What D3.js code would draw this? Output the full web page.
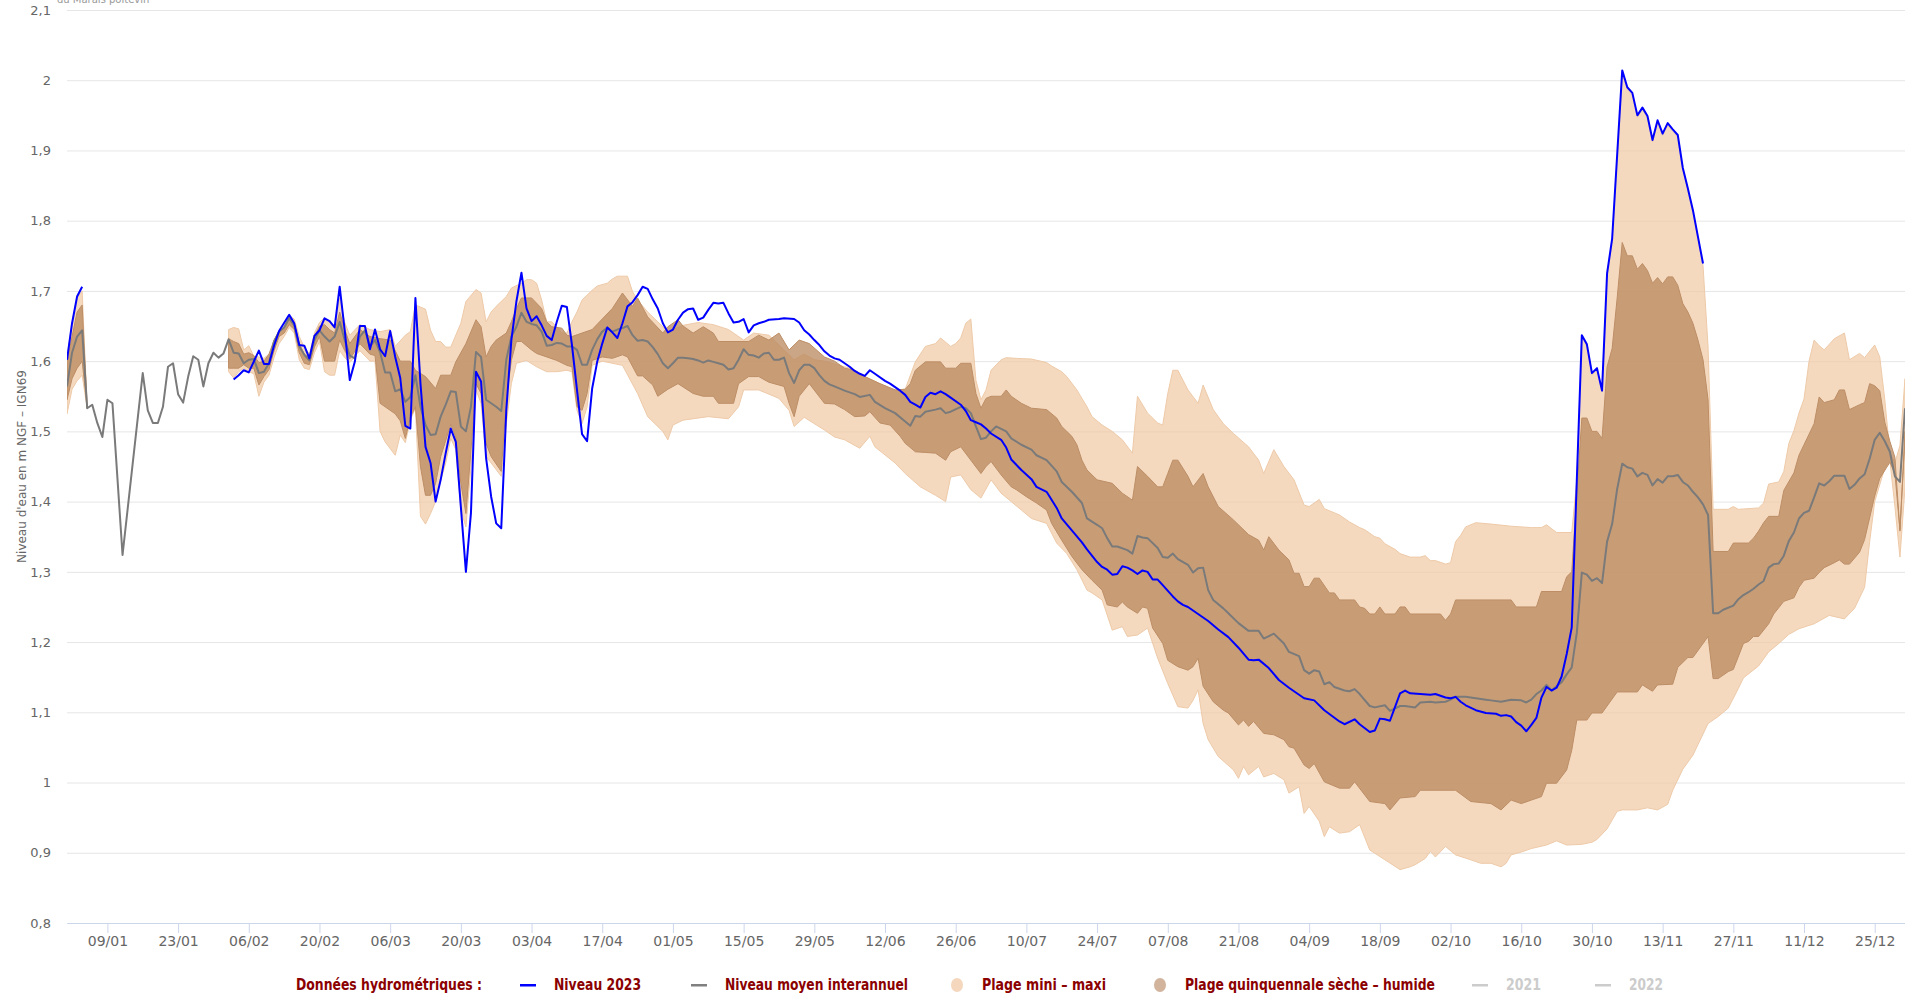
<!DOCTYPE html>
<html lang="fr">
<head>
<meta charset="utf-8">
<title>Niveau d'eau 2023</title>
<script src="https://cdn.jsdelivr.net/npm/d3@7"></script>
<style>
  body { margin: 0; background: #fff; }
  svg { display: block; }
  .legend text { font-family: "Liberation Sans Narrow", "DejaVu Sans Condensed", "DejaVu Sans", sans-serif; font-stretch: condensed; font-weight: bold; font-size: 15px; }
</style>
</head>
<body>
<div id="chart"></div>
<script>
// Day of year (0 = 1st January 2023) and level in m NGF-IGN69
// null entries split the series where data is missing

const niveau2023 = [
  [0,1.602],[1,1.654],[2,1.692],[3,1.706], null,
  [33,1.574],[34,1.580],[35,1.587],[36,1.584],[38,1.615],[39,1.596],[40,1.596],[41,1.622],[42,1.643],[44,1.666],
  [45,1.654],[46,1.623],[47,1.622],[48,1.604],[49,1.636],[50,1.644],[51,1.661],[52,1.657],[53,1.648],[54,1.706],
  [55,1.644],[56,1.573],[57,1.599],[58,1.650],[59,1.650],[60,1.617],[61,1.645],[62,1.617],[63,1.607],[64,1.643],
  [65,1.606],[66,1.576],[67,1.508],[68,1.504],[69,1.690],[70,1.568],[71,1.478],[72,1.455],[73,1.400],[74,1.431],
  [75,1.469],[76,1.504],[77,1.485],[79,1.300],[80,1.384],[81,1.585],[82,1.571],[83,1.462],[84,1.407],[85,1.369],
  [86,1.362],[87,1.530],[88,1.630],[89,1.685],[90,1.726],[91,1.675],[92,1.657],[93,1.664],[94,1.651],[95,1.636],
  [96,1.630],[97,1.656],[98,1.679],[99,1.677],[100,1.623],[101,1.559],[102,1.496],[103,1.486],[104,1.561],[105,1.599],
  [106,1.625],[107,1.648],[108,1.641],[109,1.633],[110,1.654],[111,1.678],[112,1.684],[113,1.694],[114,1.706],[115,1.703],
  [116,1.688],[117,1.675],[118,1.654],[119,1.641],[120,1.645],[121,1.659],[122,1.669],[123,1.674],[124,1.675],[125,1.659],
  [126,1.662],[127,1.673],[128,1.683],[129,1.682],[130,1.683],[131,1.668],[132,1.655],[133,1.656],[134,1.660],[135,1.641],
  [136,1.651],[137,1.654],[138,1.656],[139,1.659],[141,1.660],[142,1.661],[144,1.660],[145,1.655],[146,1.644],[147,1.638],
  [148,1.630],[149,1.623],[150,1.614],[151,1.608],[152,1.604],[153,1.602],[154,1.597],[155,1.592],[156,1.586],[157,1.582],
  [158,1.579],[159,1.587],[160,1.582],[162,1.572],[163,1.568],[165,1.558],[166,1.552],[167,1.542],[168,1.538],[169,1.534],
  [170,1.549],[171,1.555],[172,1.553],[173,1.557],[174,1.553],[175,1.548],[177,1.538],[178,1.529],[179,1.516],[180,1.513],
  [181,1.510],[182,1.504],[183,1.497],[185,1.488],[186,1.477],[187,1.460],[189,1.445],[191,1.432],[192,1.421],[194,1.414],
  [196,1.391],[197,1.376],[199,1.359],[201,1.342],[202,1.332],[204,1.314],[205,1.307],[206,1.303],[207,1.296],[208,1.297],
  [209,1.308],[210,1.306],[211,1.302],[212,1.297],[213,1.302],[214,1.300],[215,1.289],[216,1.289],[217,1.281],[219,1.265],
  [220,1.258],[221,1.253],[222,1.250],[224,1.240],[226,1.230],[228,1.218],[230,1.207],[232,1.192],[234,1.175],[235,1.174],
  [236,1.175],[238,1.163],[240,1.146],[242,1.135],[245,1.120],[247,1.117],[249,1.103],[252,1.087],[253,1.083],[255,1.090],
  [256,1.083],[258,1.072],[259,1.074],[260,1.091],[261,1.090],[262,1.088],[264,1.127],[265,1.131],[266,1.127],[268,1.126],
  [270,1.125],[271,1.126],[273,1.121],[274,1.120],[275,1.122],[276,1.115],[277,1.110],[279,1.103],[281,1.099],[283,1.098],
  [284,1.095],[285,1.096],[286,1.094],[287,1.086],[288,1.081],[289,1.073],[290,1.082],[291,1.092],[292,1.121],[293,1.136],
  [294,1.131],[295,1.135],[296,1.151],[297,1.183],[298,1.221],[299,1.430],[300,1.637],[301,1.624],[302,1.583],[303,1.590],
  [304,1.558],[305,1.725],[306,1.774],[308,2.014],[309,1.990],[310,1.982],[311,1.950],[312,1.961],[313,1.949],[314,1.915],
  [315,1.943],[316,1.924],[317,1.939],[318,1.930],[319,1.922],[320,1.875],[321,1.846],[322,1.815],[323,1.777],[324,1.739]
];

const moyenneInterannuelle = [
  [0,1.564],[1,1.612],[2,1.635],[3,1.644],[4,1.533],[5,1.538],[6,1.512],[7,1.492],[8,1.545],[9,1.540],[11,1.324],
  [15,1.583],[16,1.530],[17,1.512],[18,1.512],[19,1.535],[20,1.592],[21,1.597],[22,1.553],[23,1.541],[24,1.578],
  [25,1.607],[26,1.602],[27,1.564],[28,1.597],[29,1.612],[30,1.605],[31,1.611],[32,1.631],[33,1.612],[34,1.611],
  [35,1.597],[36,1.602],[37,1.603],[38,1.583],[39,1.585],[40,1.597],[41,1.628],[42,1.642],[43,1.648],[44,1.661],
  [45,1.651],[46,1.621],[47,1.609],[48,1.601],[49,1.630],[50,1.644],[51,1.635],[52,1.628],[53,1.635],[54,1.656],
  [55,1.630],[56,1.608],[57,1.604],[58,1.635],[59,1.644],[60,1.621],[61,1.630],[62,1.613],[63,1.584],[64,1.584],
  [65,1.557],[66,1.560],[67,1.542],[68,1.549],[69,1.580],[70,1.535],[71,1.509],[72,1.495],[73,1.496],[74,1.521],
  [75,1.538],[76,1.557],[77,1.556],[78,1.507],[79,1.500],[80,1.535],[81,1.613],[82,1.606],[83,1.545],[84,1.540],
  [85,1.535],[86,1.529],[87,1.602],[88,1.635],[89,1.649],[90,1.669],[91,1.656],[92,1.653],[93,1.651],[94,1.642],
  [95,1.622],[96,1.623],[97,1.626],[98,1.625],[99,1.621],[100,1.621],[101,1.616],[102,1.595],[103,1.595],[104,1.616],
  [105,1.631],[106,1.642],[107,1.648],[108,1.642],[109,1.645],[110,1.647],[111,1.650],[112,1.637],[113,1.629],[114,1.630],
  [115,1.628],[116,1.620],[117,1.610],[118,1.597],[119,1.590],[120,1.597],[121,1.605],[122,1.605],[123,1.604],[124,1.603],
  [125,1.601],[126,1.598],[127,1.601],[128,1.599],[129,1.597],[130,1.595],[131,1.588],[132,1.590],[133,1.602],[134,1.617],
  [135,1.609],[136,1.608],[137,1.605],[138,1.611],[139,1.612],[140,1.602],[141,1.602],[142,1.605],[143,1.583],[144,1.569],
  [145,1.587],[146,1.595],[147,1.595],[148,1.590],[149,1.580],[150,1.572],[151,1.567],[152,1.564],[154,1.558],[156,1.553],
  [157,1.549],[159,1.552],[160,1.542],[162,1.533],[164,1.526],[166,1.514],[167,1.508],[168,1.522],[169,1.521],[170,1.528],
  [172,1.531],[173,1.533],[174,1.526],[175,1.528],[177,1.535],[178,1.533],[179,1.526],[180,1.507],[181,1.489],[182,1.491],
  [183,1.500],[184,1.507],[186,1.500],[187,1.490],[189,1.481],[191,1.474],[192,1.466],[194,1.459],[196,1.443],[197,1.428],
  [199,1.414],[201,1.398],[202,1.376],[204,1.367],[205,1.362],[206,1.348],[207,1.336],[208,1.336],[210,1.331],[211,1.326],
  [212,1.351],[213,1.349],[214,1.348],[216,1.334],[217,1.321],[218,1.320],[219,1.326],[220,1.318],[222,1.310],[223,1.299],
  [224,1.305],[225,1.306],[226,1.274],[227,1.260],[229,1.248],[230,1.241],[232,1.227],[234,1.216],[236,1.216],[237,1.205],
  [239,1.212],[241,1.198],[242,1.186],[244,1.180],[245,1.160],[246,1.155],[247,1.160],[248,1.158],[249,1.140],[250,1.143],
  [251,1.136],[253,1.131],[254,1.130],[255,1.133],[256,1.126],[258,1.109],[259,1.107],[261,1.110],[262,1.102],[264,1.109],
  [265,1.109],[267,1.107],[268,1.114],[270,1.115],[271,1.114],[273,1.115],[274,1.118],[275,1.122],[277,1.122],[279,1.120],
  [281,1.118],[282,1.117],[284,1.115],[286,1.118],[288,1.117],[289,1.114],[290,1.118],[291,1.126],[292,1.131],[293,1.139],
  [294,1.131],[295,1.137],[296,1.143],[297,1.154],[298,1.164],[299,1.213],[300,1.299],[301,1.296],[302,1.287],[303,1.291],
  [304,1.284],[305,1.343],[306,1.368],[307,1.418],[308,1.454],[309,1.449],[310,1.447],[311,1.436],[312,1.441],[313,1.438],
  [314,1.423],[315,1.432],[316,1.427],[317,1.436],[318,1.436],[319,1.438],[320,1.428],[321,1.423],[322,1.414],[323,1.406],
  [324,1.396],[325,1.381],[326,1.241],[327,1.241],[328,1.246],[330,1.252],[331,1.261],[332,1.267],[333,1.271],[334,1.276],
  [335,1.282],[336,1.287],[337,1.306],[338,1.311],[339,1.312],[340,1.323],[341,1.344],[342,1.356],[343,1.376],[344,1.384],
  [345,1.387],[346,1.406],[347,1.426],[348,1.423],[349,1.429],[350,1.437],[352,1.437],[353,1.418],[354,1.424],[355,1.433],
  [356,1.439],[357,1.461],[358,1.488],[359,1.498],[360,1.486],[361,1.471],[362,1.436],[363,1.428],[364,1.533]
];

// Plage mini - maxi
const plageMaxi = [
  [0,1.605],[1,1.655],[2,1.690],[3,1.700],[4,1.533], null,
  [32,1.645],[33,1.648],[34,1.646],[35,1.616],[36,1.622],[37,1.607],[38,1.606],[39,1.604],[40,1.610],[41,1.613],
  [42,1.640],[43,1.650],[44,1.665],[45,1.660],[46,1.635],[47,1.620],[48,1.610],[49,1.640],[50,1.655],[51,1.662],
  [52,1.655],[53,1.650],[54,1.690],[55,1.655],[56,1.637],[58,1.652],[60,1.645],[62,1.642],[64,1.645],[65,1.621],
  [67,1.637],[68,1.642],[69,1.680],[71,1.674],[72,1.644],[73,1.628],[74,1.628],[75,1.620],[76,1.620],[78,1.654],
  [79,1.685],[81,1.702],[82,1.697],[83,1.656],[84,1.670],[85,1.678],[87,1.692],[88,1.704],[90,1.711],[91,1.716],
  [92,1.716],[93,1.711],[94,1.687],[95,1.656],[96,1.656],[97,1.649],[98,1.640],[99,1.640],[100,1.656],[101,1.670],
  [102,1.687],[104,1.701],[105,1.707],[107,1.711],[108,1.717],[109,1.721],[111,1.721],[112,1.699],[113,1.687],[115,1.670],
  [117,1.656],[119,1.642],[122,1.651],[125,1.655],[128,1.652],[131,1.645],[132,1.640],[134,1.630],[136,1.640],[139,1.637],
  [142,1.616],[144,1.602],[146,1.610],[148,1.602],[150,1.600],[152,1.596],[155,1.590],[158,1.578],[161,1.568],[164,1.559],
  [166,1.560],[168,1.599],[170,1.621],[172,1.625],[173,1.633],[175,1.621],[176,1.625],[177,1.633],[178,1.654],[179,1.660],
  [180,1.573],[181,1.545],[182,1.559],[183,1.587],[185,1.602],[186,1.605],[188,1.604],[191,1.603],[194,1.598],[195,1.593],
  [197,1.585],[198,1.578],[200,1.559],[202,1.535],[203,1.521],[205,1.509],[207,1.500],[209,1.488],[211,1.469],[212,1.550],
  [214,1.526],[216,1.512],[217,1.509],[218,1.554],[219,1.587],[220,1.587],[222,1.559],[224,1.540],[225,1.566],[227,1.531],
  [229,1.511],[231,1.497],[234,1.478],[236,1.459],[237,1.440],[239,1.474],[241,1.450],[243,1.431],[245,1.395],[246,1.393],
  [248,1.403],[249,1.390],[252,1.381],[254,1.371],[256,1.363],[257,1.360],[259,1.350],[260,1.348],[261,1.340],[263,1.332],
  [264,1.326],[266,1.321],[268,1.321],[269,1.323],[270,1.316],[271,1.316],[273,1.311],[274,1.313],[275,1.343],[276,1.352],
  [277,1.364],[279,1.370],[282,1.368],[286,1.365],[290,1.363],[292,1.363],[293,1.367],[295,1.356],[298,1.356],[299,1.430],
  [300,1.635],[301,1.620],[302,1.580],[303,1.588],[304,1.556],[305,1.720],[306,1.770],[308,2.010],[309,1.987],[310,1.979],
  [311,1.947],[312,1.958],[313,1.946],[314,1.912],[315,1.940],[316,1.921],[317,1.936],[318,1.927],[319,1.919],[320,1.872],
  [321,1.843],[322,1.812],[323,1.774],[324,1.736],[325,1.620],[326,1.389],[329,1.389],[330,1.393],[331,1.389],[335,1.391],
  [336,1.398],[337,1.425],[339,1.428],[340,1.443],[341,1.483],[342,1.501],[343,1.526],[344,1.546],[345,1.600],[346,1.630],
  [347,1.622],[348,1.616],[350,1.632],[352,1.640],[353,1.602],[355,1.611],[356,1.605],[358,1.623],[359,1.606],[360,1.545],
  [361,1.470],[362,1.455],[363,1.480],[364,1.575]
];

const plageMini = [
  [0,1.525],[1,1.560],[2,1.572],[3,1.580],[4,1.533], null,
  [32,1.585],[33,1.576],[34,1.585],[35,1.590],[36,1.585],[37,1.582],[38,1.550],[39,1.570],[40,1.580],[41,1.605],
  [42,1.625],[43,1.635],[44,1.648],[45,1.640],[46,1.602],[47,1.590],[48,1.588],[49,1.612],[50,1.628],[51,1.585],
  [52,1.580],[53,1.580],[54,1.615],[55,1.605],[56,1.598],[58,1.615],[60,1.600],[61,1.600],[62,1.500],[63,1.485],
  [65,1.466],[66,1.495],[67,1.484],[68,1.516],[69,1.533],[70,1.379],[71,1.368],[72,1.383],[73,1.400],[74,1.430],
  [75,1.455],[76,1.490],[77,1.474],[78,1.388],[79,1.364],[80,1.450],[81,1.559],[82,1.540],[83,1.464],[84,1.455],
  [86,1.436],[87,1.511],[88,1.568],[89,1.597],[91,1.601],[93,1.592],[95,1.585],[97,1.585],[99,1.587],[100,1.585],
  [101,1.530],[102,1.511],[103,1.535],[104,1.594],[106,1.600],[110,1.594],[113,1.554],[115,1.521],[118,1.500],[119,1.488],
  [120,1.509],[122,1.516],[127,1.521],[131,1.518],[133,1.535],[134,1.559],[137,1.559],[141,1.547],[143,1.530],[144,1.507],
  [146,1.520],[150,1.502],[152,1.492],[154,1.488],[157,1.476],[159,1.493],[160,1.478],[164,1.455],[166,1.440],[169,1.421],
  [172,1.409],[174,1.400],[175,1.435],[177,1.438],[179,1.417],[181,1.405],[183,1.431],[185,1.412],[187,1.400],[189,1.388],
  [191,1.376],[194,1.369],[196,1.341],[198,1.326],[200,1.303],[202,1.274],[203,1.270],[205,1.260],[207,1.217],[209,1.222],
  [210,1.208],[212,1.210],[214,1.220],[216,1.177],[218,1.141],[220,1.108],[222,1.106],[223,1.117],[224,1.132],[225,1.084],
  [226,1.061],[228,1.037],[231,1.018],[232,1.006],[233,1.023],[234,1.011],[236,1.023],[237,1.008],[239,1.013],[241,1.004],
  [242,0.985],[244,0.994],[245,0.956],[246,0.966],[248,0.945],[249,0.923],[250,0.937],[252,0.928],[254,0.930],[256,0.940],
  [258,0.904],[261,0.890],[264,0.876],[266,0.880],[267,0.883],[269,0.892],[270,0.902],[271,0.894],[273,0.909],[275,0.897],
  [278,0.890],[280,0.885],[282,0.885],[284,0.880],[285,0.885],[286,0.897],[288,0.901],[290,0.906],[293,0.911],[295,0.917],
  [297,0.911],[300,0.912],[302,0.915],[303,0.919],[305,0.934],[307,0.959],[308,0.961],[311,0.961],[313,0.964],[315,0.961],
  [317,0.969],[318,0.989],[320,1.019],[322,1.039],[323,1.054],[325,1.084],[327,1.094],[329,1.106],[331,1.134],[332,1.149],
  [335,1.166],[337,1.186],[339,1.198],[341,1.211],[343,1.219],[346,1.226],[349,1.238],[352,1.233],[354,1.248],[356,1.278],
  [357,1.343],[358,1.400],[360,1.448],[361,1.459],[362,1.393],[363,1.321],[364,1.420]
];

// Plage quinquennale sèche - humide
const quinquennaleHumide = [
  [0,1.598],[1,1.635],[2,1.670],[3,1.680],[4,1.533], null,
  [32,1.632],[33,1.628],[34,1.625],[35,1.610],[36,1.612],[37,1.608],[38,1.598],[39,1.600],[40,1.610],[41,1.630],
  [42,1.643],[43,1.648],[44,1.663],[45,1.654],[46,1.625],[47,1.610],[48,1.605],[49,1.635],[50,1.650],[51,1.652],
  [52,1.645],[53,1.640],[54,1.670],[55,1.645],[56,1.625],[58,1.645],[60,1.635],[62,1.632],[64,1.630],[66,1.600],
  [68,1.600],[69,1.587],[71,1.578],[73,1.561],[74,1.580],[76,1.580],[77,1.599],[79,1.625],[81,1.659],[82,1.649],
  [83,1.606],[84,1.621],[85,1.630],[87,1.640],[88,1.656],[89,1.675],[90,1.690],[92,1.690],[94,1.675],[95,1.656],
  [96,1.649],[98,1.647],[99,1.637],[100,1.635],[102,1.640],[104,1.645],[106,1.660],[108,1.675],[110,1.697],[112,1.678],
  [113,1.690],[115,1.663],[118,1.640],[119,1.649],[121,1.659],[122,1.650],[124,1.640],[126,1.649],[128,1.640],[129,1.628],
  [135,1.628],[137,1.637],[139,1.630],[141,1.640],[143,1.616],[145,1.630],[147,1.625],[150,1.606],[152,1.600],[154,1.590],
  [156,1.587],[158,1.578],[161,1.568],[164,1.559],[166,1.560],[167,1.568],[168,1.587],[170,1.599],[173,1.599],[174,1.590],
  [176,1.590],[177,1.597],[179,1.597],[180,1.554],[181,1.533],[182,1.547],[183,1.550],[185,1.550],[186,1.559],[187,1.550],
  [189,1.540],[191,1.533],[194,1.531],[196,1.519],[197,1.507],[199,1.493],[200,1.481],[201,1.459],[202,1.445],[204,1.431],
  [207,1.426],[209,1.412],[211,1.402],[212,1.450],[214,1.436],[216,1.421],[217,1.421],[218,1.440],[219,1.459],[220,1.459],
  [222,1.436],[223,1.421],[225,1.440],[226,1.421],[228,1.393],[231,1.374],[234,1.353],[236,1.345],[237,1.331],[238,1.350],
  [240,1.331],[242,1.317],[243,1.298],[244,1.298],[245,1.279],[246,1.279],[247,1.291],[248,1.291],[250,1.270],[251,1.270],
  [252,1.260],[255,1.260],[256,1.250],[257,1.248],[258,1.240],[259,1.240],[260,1.250],[261,1.240],[263,1.240],[264,1.250],
  [265,1.250],[266,1.240],[272,1.240],[273,1.231],[274,1.240],[275,1.260],[286,1.260],[287,1.250],[291,1.250],[292,1.272],
  [296,1.272],[297,1.293],[298,1.300],[300,1.519],[301,1.519],[302,1.500],[303,1.500],[304,1.490],[305,1.592],[306,1.618],
  [307,1.690],[308,1.769],[309,1.750],[310,1.750],[311,1.731],[312,1.739],[313,1.729],[314,1.711],[315,1.719],[316,1.710],
  [317,1.720],[318,1.720],[319,1.708],[320,1.682],[321,1.670],[322,1.654],[323,1.630],[324,1.602],[325,1.545],[326,1.329],
  [329,1.329],[330,1.341],[333,1.341],[334,1.348],[335,1.358],[336,1.370],[337,1.379],[339,1.379],[340,1.416],[342,1.441],
  [343,1.466],[344,1.481],[346,1.511],[347,1.549],[348,1.541],[350,1.545],[351,1.559],[352,1.559],[353,1.531],[355,1.538],
  [356,1.541],[357,1.568],[358,1.565],[359,1.558],[360,1.513],[361,1.486],[362,1.463],[363,1.358],[364,1.500]
];

const quinquennaleSeche = [
  [0,1.545],[1,1.575],[2,1.590],[3,1.600],[4,1.533], null,
  [32,1.590],[33,1.590],[34,1.590],[35,1.595],[36,1.590],[37,1.590],[38,1.566],[39,1.578],[40,1.588],[41,1.615],
  [42,1.635],[43,1.640],[44,1.652],[45,1.645],[46,1.612],[47,1.597],[48,1.595],[49,1.620],[50,1.635],[51,1.600],
  [52,1.600],[53,1.600],[54,1.630],[55,1.615],[56,1.603],[58,1.625],[60,1.610],[61,1.608],[62,1.540],[63,1.535],
  [65,1.525],[66,1.515],[67,1.490],[68,1.520],[69,1.535],[70,1.450],[71,1.409],[72,1.409],[73,1.426],[74,1.464],
  [76,1.510],[77,1.492],[78,1.426],[79,1.383],[80,1.473],[81,1.568],[82,1.554],[83,1.483],[84,1.464],[86,1.443],
  [87,1.545],[88,1.601],[89,1.628],[90,1.628],[92,1.616],[93,1.611],[95,1.606],[97,1.601],[99,1.594],[100,1.592],
  [101,1.535],[102,1.530],[103,1.554],[104,1.601],[106,1.606],[108,1.604],[110,1.609],[111,1.606],[113,1.579],[114,1.579],
  [116,1.566],[117,1.550],[119,1.560],[121,1.568],[124,1.554],[126,1.550],[128,1.550],[129,1.540],[132,1.540],[133,1.568],
  [135,1.578],[137,1.578],[139,1.570],[142,1.564],[143,1.540],[144,1.521],[145,1.550],[147,1.568],[150,1.540],[152,1.539],
  [154,1.531],[156,1.521],[158,1.522],[159,1.528],[161,1.512],[163,1.509],[165,1.493],[166,1.483],[168,1.471],[170,1.470],
  [172,1.469],[174,1.459],[175,1.471],[177,1.478],[179,1.459],[181,1.440],[182,1.450],[183,1.457],[185,1.438],[187,1.421],
  [188,1.417],[190,1.407],[192,1.398],[194,1.388],[195,1.369],[197,1.345],[199,1.322],[201,1.303],[203,1.288],[205,1.274],
  [206,1.253],[208,1.250],[209,1.257],[210,1.250],[212,1.241],[213,1.250],[214,1.248],[215,1.220],[217,1.198],[218,1.174],
  [220,1.165],[222,1.160],[223,1.165],[224,1.177],[225,1.137],[227,1.115],[229,1.103],[230,1.099],[232,1.082],[233,1.089],
  [234,1.080],[235,1.087],[237,1.070],[239,1.068],[241,1.061],[242,1.051],[243,1.049],[245,1.025],[246,1.020],[247,1.027],
  [249,1.001],[252,0.992],[254,0.992],[255,1.001],[258,0.973],[261,0.970],[262,0.961],[264,0.978],[267,0.980],[268,0.989],
  [275,0.989],[278,0.973],[282,0.970],[284,0.961],[286,0.975],[288,0.970],[290,0.975],[292,0.980],[293,0.999],[295,0.999],
  [297,1.018],[298,1.046],[299,1.089],[301,1.089],[302,1.099],[304,1.099],[307,1.129],[311,1.129],[312,1.139],[314,1.130],
  [315,1.139],[318,1.140],[319,1.164],[321,1.178],[322,1.178],[325,1.208],[326,1.148],[327,1.148],[329,1.158],[330,1.161],
  [332,1.198],[333,1.201],[334,1.208],[335,1.208],[337,1.226],[338,1.240],[340,1.258],[342,1.263],[343,1.278],[344,1.288],
  [346,1.291],[347,1.299],[348,1.306],[350,1.313],[351,1.317],[352,1.311],[353,1.311],[355,1.328],[356,1.346],[358,1.408],
  [359,1.433],[361,1.456],[362,1.440],[363,1.360],[364,1.490]
];

// Axis values
const niveauxGrille = [0.8, 0.9, 1.0, 1.1, 1.2, 1.3, 1.4, 1.5, 1.6, 1.7, 1.8, 1.9, 2.0, 2.1];
const premierTick = new Date(2023, 0, 9);   // ticks every two weeks from 09/01
const legendeItems = [
  { label: "Niveau 2023", type: "line", color: "#0000ff", textColor: "#8b0000", w: 87 },
  { label: "Niveau moyen interannuel", type: "line", color: "#808080", textColor: "#8b0000", w: 183 },
  { label: "Plage mini – maxi", type: "circle", color: "#f4d7bd", textColor: "#8b0000", w: 124 },
  { label: "Plage quinquennale sèche – humide", type: "circle", color: "#d2b39b", textColor: "#8b0000", w: 250 },
  { label: "2021", type: "line", color: "#cccccc", textColor: "#cccccc", w: 35 },
  { label: "2022", type: "line", color: "#cccccc", textColor: "#cccccc", w: 34 }
];

// Chart size
const width = 1905, height = 994;
const margin = { top: 10, right: 0, bottom: 71, left: 67 };
const plotW = width - margin.left - margin.right;
const plotH = height - margin.top - margin.bottom;

const svg = d3.select("#chart").append("svg")
    .attr("width", width)
    .attr("height", height)
    .style("font-family", "'DejaVu Sans', Verdana, sans-serif");

const start = new Date(2023, 0, 1);
const jour = d => d3.timeDay.offset(start, d);

const x = d3.scaleTime()
    .domain([start, new Date(2023, 11, 31)])
    .range([margin.left, margin.left + plotW]);

const y = d3.scaleLinear()
    .domain([0.8, 2.1])
    .range([margin.top + plotH, margin.top]);

// Cut-off source text at the very top
svg.append("text")
    .attr("x", 57).attr("y", 2.5)
    .attr("font-size", 10)
    .attr("fill", "#999")
    .text("du Marais poitevin");

// Horizontal grid + y labels
const yAxis = svg.append("g")
    .attr("transform", `translate(${margin.left},0)`)
    .call(d3.axisLeft(y)
        .tickValues(niveauxGrille)
        .tickSize(-plotW)
        .tickPadding(16)
        .tickFormat(d => String(+d.toFixed(1)).replace(".", ",")));
yAxis.select(".domain").remove();
yAxis.selectAll(".tick line").attr("stroke", "#e6e6e6");
yAxis.selectAll(".tick text")
    .attr("fill", "#666")
    .attr("font-size", 13)
    .attr("font-family", "'DejaVu Sans', Verdana, sans-serif");

// Y axis title
svg.append("text")
    .attr("transform", `translate(26,${margin.top + plotH / 2}) rotate(-90)`)
    .attr("text-anchor", "middle")
    .attr("font-size", 12)
    .attr("fill", "#666")
    .text("Niveau d'eau en m NGF – IGN69");

// Clip to plot area
svg.append("clipPath").attr("id", "plot")
  .append("rect")
    .attr("x", margin.left).attr("y", margin.top)
    .attr("width", plotW).attr("height", plotH);

const plot = svg.append("g").attr("clip-path", "url(#plot)");

// Split a series on null entries
function segments(data) {
  const out = [[]];
  data.forEach(d => {
    if (d === null) out.push([]);
    else out[out.length - 1].push(d);
  });
  return out.filter(s => s.length);
}

const line = d3.line()
    .x(d => x(jour(d[0])))
    .y(d => y(d[1]));

// Band polygon: upper edge forward, lower edge back
function bandPath(upper, lower) {
  const up = segments(upper), lo = segments(lower);
  return up.map((s, i) => line(s.concat(lo[i].slice().reverse())) + "Z").join("");
}

plot.append("path")
    .attr("d", bandPath(plageMaxi, plageMini))
    .attr("fill", "#f0c9a4")
    .attr("fill-opacity", 0.7)
    .attr("stroke", "#eecaa8")
    .attr("stroke-width", 1);

plot.append("path")
    .attr("d", bandPath(quinquennaleHumide, quinquennaleSeche))
    .attr("fill", "#b9885e")
    .attr("fill-opacity", 0.75)
    .attr("stroke", "#bd8e66")
    .attr("stroke-width", 1);

// Mean and 2023 lines
const lineDefined = d3.line()
    .defined(d => d !== null)
    .x(d => x(jour(d[0])))
    .y(d => y(d[1]));

plot.append("path")
    .datum(moyenneInterannuelle)
    .attr("d", lineDefined)
    .attr("fill", "none")
    .attr("stroke", "#7a7a7a")
    .attr("stroke-width", 2)
    .attr("stroke-linejoin", "round");

plot.append("path")
    .datum(niveau2023)
    .attr("d", lineDefined)
    .attr("fill", "none")
    .attr("stroke", "#0000ff")
    .attr("stroke-width", 2)
    .attr("stroke-linejoin", "round");

// X axis
const ticks = d3.timeDay.range(premierTick, new Date(2023, 11, 31), 14);
const xAxis = svg.append("g")
    .attr("transform", `translate(0,${margin.top + plotH})`)
    .call(d3.axisBottom(x)
        .tickValues(ticks)
        .tickFormat(d3.timeFormat("%d/%m"))
        .tickSize(10)
        .tickSizeOuter(0)
        .tickPadding(3));
xAxis.select(".domain").attr("stroke", "#ccd6eb");
xAxis.selectAll(".tick line").attr("stroke", "#ccd6eb");
xAxis.selectAll(".tick text")
    .attr("fill", "#666")
    .attr("font-size", 14)
    .attr("font-family", "'DejaVu Sans', Verdana, sans-serif");

// Legend (text widths squeezed to the narrow font of the original)
const legend = svg.append("g").attr("class", "legend");
const legendY = 985;
const itemX = [520, 691, 951, 1154, 1472, 1595];

legend.append("text")
    .attr("x", 296).attr("y", legendY + 5)
    .attr("fill", "#8b0000")
    .attr("textLength", 186)
    .attr("lengthAdjust", "spacingAndGlyphs")
    .text("Données hydrométriques :");

legendeItems.forEach((item, i) => {
  const g = legend.append("g").attr("transform", `translate(${itemX[i]},${legendY})`);
  if (item.type === "line") {
    g.append("rect").attr("x", 0).attr("y", -1).attr("width", 16).attr("height", 2.5).attr("fill", item.color);
  } else {
    g.append("ellipse").attr("cx", 6).attr("cy", 0).attr("rx", 6).attr("ry", 7).attr("fill", item.color);
  }
  g.append("text")
    .attr("x", item.type === "line" ? 34 : 31)
    .attr("y", 5)
    .attr("fill", item.textColor)
    .attr("textLength", item.w)
    .attr("lengthAdjust", "spacingAndGlyphs")
    .text(item.label);
});
</script>
</body>
</html>
